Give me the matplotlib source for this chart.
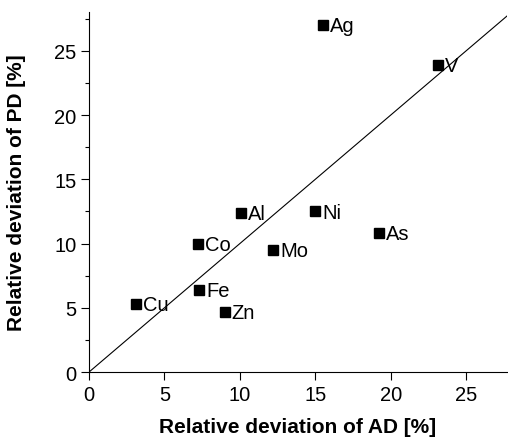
import matplotlib
matplotlib.use("Agg")
import matplotlib.pyplot as plt
import numpy as np

plt.rcParams["font.family"] = ["Liberation Sans", "DejaVu Sans"]

elements = ["Ag", "V", "Al", "Ni", "As", "Co", "Mo", "Fe", "Cu", "Zn"]
ad_dev = [15.5, 23.1, 10.1, 15.0, 19.2, 7.2, 12.2, 7.3, 3.1, 9.0]
pd_dev = [27.0, 23.9, 12.4, 12.5, 10.8, 10.0, 9.5, 6.4, 5.3, 4.7]

fig = plt.figure(figsize=(5.08, 4.39), dpi=100)
ax = fig.add_axes([0.175, 0.150, 0.823, 0.820])

lim = 27.7
ax.plot([0, lim], [0, lim], color="black", linewidth=0.8)
ax.plot(ad_dev, pd_dev, linestyle="none", marker="s", markersize=7, color="black")
for name, x, y in zip(elements, ad_dev, pd_dev):
    ax.annotate(name, (x, y), xytext=(5, -0.5), textcoords="offset points",
                ha="left", va="center", fontsize=14.5)

ax.set_xlim(0, lim)
ax.set_ylim(0, 28)
ax.set_xticks(np.arange(0, 26, 5))
ax.set_yticks(np.arange(0, 26, 5))
ax.set_yticks(np.arange(0, 28, 2.5), minor=True)
ax.tick_params(axis="both", which="major", direction="out", length=6, width=0.8, labelsize=14.5, pad=3)
ax.tick_params(axis="y", which="minor", direction="out", length=3, width=0.8)
for side in ["top", "right"]:
    ax.spines[side].set_visible(False)
for side in ["left", "bottom"]:
    ax.spines[side].set_linewidth(0.8)

ax.set_xlabel("Relative deviation of AD [%]", fontsize=15, fontweight="bold")
ax.set_ylabel("Relative deviation of PD [%]", fontsize=15, fontweight="bold")
ax.xaxis.set_label_coords(0.5, -0.125)
ax.yaxis.set_label_coords(-0.15, 0.5)

fig.savefig("out.png", dpi=100)
plt.close(fig)
